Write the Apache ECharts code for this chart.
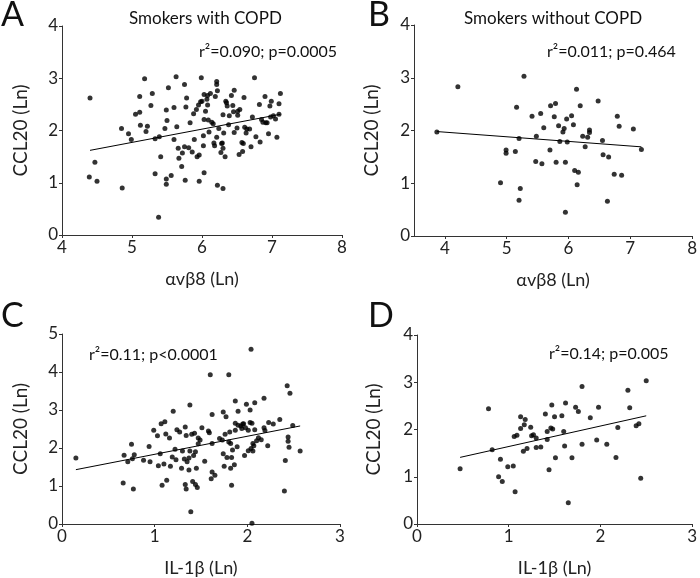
<!DOCTYPE html>
<html><head><meta charset="utf-8">
<script src="https://cdn.jsdelivr.net/npm/echarts@6/dist/echarts.min.js"></script>
<style>html,body{margin:0;padding:0;background:#fff}#c{width:700px;height:578px}</style>
</head><body><div id="c"></div>
<script>
// Panel A: Smokers with COPD, avb8 vs CCL20
const aX = [4.40,4.47,4.39,4.50,4.86,4.85,4.95,4.99,5.05,5.11,5.11,5.12,5.18,5.20,5.22,5.27,5.29,5.33,5.33,5.39,5.38,5.41,5.49,5.50,5.47,5.49,5.49,5.52,5.56,5.60,5.60,5.63,5.64,5.66,5.67,5.72,5.71,5.75,5.75,5.77,5.78,5.76,5.81,5.83,5.86,5.88,5.89,5.92,5.93,5.96,5.96,5.95,5.99,5.98,6.00,6.02,6.02,6.03,6.03,6.05,6.03,6.07,6.08,6.08,6.09,6.10,6.12,6.14,6.16,6.17,6.18,6.19,6.21,6.21,6.22,6.21,6.22,6.24,6.28,6.27,6.30,6.29,6.30,6.30,6.31,6.34,6.35,6.33,6.36,6.38,6.39,6.42,6.44,6.45,6.46,6.46,6.50,6.51,6.51,6.54,6.53,6.57,6.59,6.58,6.60,6.61,6.63,6.64,6.68,6.70,6.72,6.75,6.77,6.82,6.83,6.85,6.87,6.90,6.91,6.93,6.95,6.97,6.99,6.98,7.02,7.05,7.07,7.10,7.10,7.12];
const aY = [2.62,1.39,1.11,1.03,0.90,2.04,1.94,1.83,2.31,2.35,2.65,2.10,2.99,1.98,2.08,2.48,2.71,1.84,1.17,1.88,0.34,1.50,2.39,2.19,2.04,1.07,0.97,2.82,1.14,2.44,1.83,3.03,2.07,1.66,1.47,1.57,1.31,1.69,2.88,2.45,2.62,1.05,1.67,2.15,1.59,2.32,1.83,2.40,1.50,1.53,1.03,2.49,3.01,2.55,2.56,1.90,1.71,1.19,2.21,2.37,2.69,2.60,2.49,2.67,2.20,1.97,2.71,2.16,2.13,1.76,1.71,2.65,2.94,2.88,2.76,1.87,0.95,2.04,1.75,1.58,1.66,1.76,0.89,2.30,1.95,2.56,2.53,1.50,2.47,2.11,2.28,2.67,2.48,2.36,2.77,1.96,2.05,2.37,2.29,2.40,1.54,1.77,1.75,1.60,2.63,2.06,1.95,2.03,2.03,1.69,2.26,3.01,1.88,2.50,1.78,2.21,2.16,2.65,2.15,2.15,1.94,2.47,2.56,2.26,2.28,2.22,1.87,2.51,2.31,2.71];
const aFitX = [4.40, 7.12];
const aFitY = [1.62, 2.31];

// Panel B: Smokers without COPD
const bX = [3.87,4.21,4.90,4.99,4.99,5.14,5.16,5.20,5.20,5.22,5.28,5.41,5.47,5.48,5.55,5.57,5.60,5.70,5.71,5.77,5.79,5.80,5.84,5.86,5.91,5.93,5.95,5.95,5.97,5.98,6.05,6.08,6.10,6.13,6.14,6.16,6.19,6.23,6.27,6.31,6.34,6.34,6.48,6.55,6.56,6.63,6.65,6.74,6.79,6.82,6.86,7.05,7.18];
const bY = [1.97,2.83,1.01,1.63,1.57,1.60,2.44,1.85,0.68,0.90,3.03,2.27,1.41,1.89,2.32,1.37,2.05,1.63,2.47,2.26,2.51,1.40,2.09,1.79,1.97,2.04,1.40,0.45,2.22,1.78,2.28,2.11,1.24,2.78,0.97,1.21,2.47,1.89,1.69,1.87,2.01,1.96,2.56,1.81,1.54,0.66,1.50,1.17,2.27,2.08,1.15,2.03,1.64];
const bFitX = [3.87, 7.18];
const bFitY = [1.98, 1.69];

// Panel C: IL-1b vs CCL20 (with COPD)
const cX = [0.15,0.66,0.67,0.71,0.75,0.76,0.77,0.78,0.88,0.94,0.95,0.99,1.03,1.04,1.06,1.07,1.08,1.10,1.11,1.12,1.13,1.16,1.17,1.19,1.20,1.22,1.23,1.24,1.27,1.29,1.30,1.32,1.33,1.33,1.34,1.34,1.35,1.37,1.37,1.38,1.38,1.39,1.40,1.41,1.42,1.43,1.44,1.44,1.45,1.46,1.47,1.47,1.49,1.51,1.54,1.58,1.59,1.60,1.61,1.62,1.62,1.62,1.65,1.70,1.73,1.74,1.74,1.75,1.76,1.77,1.78,1.80,1.80,1.81,1.82,1.82,1.83,1.83,1.84,1.86,1.87,1.87,1.87,1.89,1.90,1.90,1.93,1.94,1.95,1.96,1.97,1.98,1.99,2.01,2.01,2.03,2.03,2.04,2.04,2.05,2.05,2.06,2.06,2.07,2.08,2.08,2.10,2.12,2.15,2.18,2.18,2.19,2.22,2.23,2.28,2.35,2.40,2.41,2.43,2.44,2.44,2.45,2.46,2.49,2.57];
const cY = [1.74,1.08,1.81,1.64,2.10,1.72,0.92,1.82,1.68,2.04,1.64,2.47,2.32,1.53,1.85,2.64,1.02,1.58,2.69,2.37,1.15,2.26,1.52,1.76,2.97,1.97,1.69,2.48,2.42,1.47,1.92,1.71,2.55,1.04,0.92,2.33,1.64,1.74,1.42,1.92,3.13,0.32,2.36,1.12,1.80,2.39,1.04,1.90,1.47,0.96,2.11,2.26,2.21,2.53,1.65,2.45,2.40,3.93,1.19,2.88,2.12,1.37,1.28,2.25,2.21,2.95,1.85,1.52,2.36,2.82,1.75,3.93,2.16,2.42,1.47,2.12,1.75,1.02,1.95,1.56,3.24,2.47,2.65,2.03,2.97,2.60,2.58,2.51,2.63,2.64,1.80,2.53,3.15,1.93,2.47,3.00,2.67,4.60,1.99,0.02,2.65,2.12,1.92,2.06,2.48,3.19,2.19,2.27,2.22,3.31,2.53,2.46,2.06,2.67,2.63,2.75,0.87,1.67,3.64,2.29,2.18,2.02,3.44,2.59,1.92];
const cFitX = [0.15, 2.57];
const cFitY = [1.43, 2.58];

// Panel D: IL-1b vs CCL20 (without COPD)
const dX = [0.47,0.78,0.82,0.89,0.91,0.93,0.99,1.05,1.06,1.07,1.09,1.13,1.13,1.16,1.17,1.18,1.20,1.24,1.25,1.27,1.30,1.30,1.35,1.40,1.42,1.42,1.44,1.46,1.47,1.48,1.50,1.51,1.58,1.60,1.61,1.62,1.65,1.69,1.73,1.76,1.80,1.80,1.89,1.96,1.98,2.07,2.17,2.19,2.30,2.32,2.39,2.42,2.44,2.50];
const dY = [1.17,2.44,1.57,1.00,1.37,0.90,1.21,1.23,1.85,0.68,1.88,2.02,2.27,1.54,2.10,2.21,1.60,2.05,1.87,1.89,1.62,1.82,1.63,2.33,1.79,1.96,1.15,2.03,2.52,2.01,2.27,1.40,2.29,1.96,1.65,2.56,0.45,1.40,2.47,2.38,2.91,1.69,2.25,1.78,2.47,1.69,1.41,2.04,2.83,2.46,2.08,2.12,0.97,3.03];
const dFitX = [0.47, 2.50];
const dFitY = [1.41, 2.29];

const xTicksAB = [4,5,6,7,8];
const yTicks4 = [0,1,2,3,4];
const yTicks5 = [0,1,2,3,4,5];
const xTicksCD = [0,1,2,3];

const FONT = 'Lato';
const AX = '#333';

function pairs(xs, ys){ return xs.map((x,i)=>[x, ys[i]]); }

const grids = [
  {left:62, right:358, top:26, bottom:343},
  {left:414, right:5, top:25, bottom:342},
  {left:62, right:360, top:334, bottom:47},
  {left:417, right:7, top:335, bottom:45}
];

function xAxis(i, min, max, ticks, name){
  return {
    type:'value', gridIndex:i, min:min, max:max,
    name:name, nameLocation:'middle', nameGap:35,
    nameTextStyle:{fontFamily:FONT, fontSize:18, color:'#222'},
    splitLine:{show:false},
    axisLine:{show:true, onZero:false, lineStyle:{color:AX, width:1}},
    axisTick:{show:true, length:3, customValues:ticks, lineStyle:{color:AX}},
    axisLabel:{customValues:ticks, fontFamily:FONT, fontSize:17, color:'#222', margin:4}
  };
}
function yAxis(i, max, ticks, gap){
  return {
    type:'value', gridIndex:i, min:0, max:max,
    name:'CCL20 (Ln)', nameLocation:'middle', nameGap:gap,
    nameTextStyle:{fontFamily:FONT, fontSize:19, color:'#222'},
    splitLine:{show:false},
    axisLine:{show:true, onZero:false, lineStyle:{color:AX, width:1}},
    axisTick:{show:true, length:3, customValues:ticks, lineStyle:{color:AX}},
    axisLabel:{customValues:ticks, fontFamily:FONT, fontSize:17, color:'#222', margin:4}
  };
}

function scatter(i, xs, ys){
  return {type:'scatter', xAxisIndex:i, yAxisIndex:i, data:pairs(xs,ys), symbolSize:5,
    itemStyle:{color:'#000'}, silent:true};
}
function fit(i, xs, ys){
  return {type:'line', xAxisIndex:i, yAxisIndex:i, data:pairs(xs,ys), symbol:'none',
    lineStyle:{color:'#000', width:1}, silent:true};
}

function txt(x, y, s, size, weight, align){
  return {type:'text', left:x, top:y, style:{text:s, fontFamily:FONT, fontSize:size, fontWeight:weight||'normal', fill:'#111', textAlign:align||'left'}};
}

const chart = echarts.init(document.getElementById('c'), null, {renderer:'canvas'});
chart.setOption({
  animation:false,
  backgroundColor:'#fff',
  grid: grids,
  xAxis:[
    xAxis(0,4,8,xTicksAB,'αvβ8 (Ln)'),
    xAxis(1,3.5,8,xTicksAB,'αvβ8 (Ln)'),
    xAxis(2,0,3,xTicksCD,'IL-1β (Ln)'),
    xAxis(3,0,3,xTicksCD,'IL-1β (Ln)')
  ],
  yAxis:[
    yAxis(0,4,yTicks4,32),
    yAxis(1,4,yTicks4,33),
    yAxis(2,5,yTicks5,32),
    yAxis(3,4,yTicks4,34)
  ],
  series:[
    scatter(0,aX,aY), fit(0,aFitX,aFitY),
    scatter(1,bX,bY), fit(1,bFitX,bFitY),
    scatter(2,cX,cY), fit(2,cFitX,cFitY),
    scatter(3,dX,dY), fit(3,dFitX,dFitY)
  ],
  graphic:[
    txt(1,-2,'A',34),
    txt(368,-2,'B',34),
    txt(1,299,'C',34),
    txt(368,299,'D',34),
    txt(129,10,'Smokers with COPD',17),
    txt(464,10,'Smokers without COPD',17),
    txt(199,44,'r²=0.090; p=0.0005',16),
    txt(547,44,'r²=0.011; p=0.464',16),
    txt(89,347,'r²=0.11; p<0.0001',16),
    txt(549,346,'r²=0.14; p=0.005',16)
  ]
});
</script></body></html>
